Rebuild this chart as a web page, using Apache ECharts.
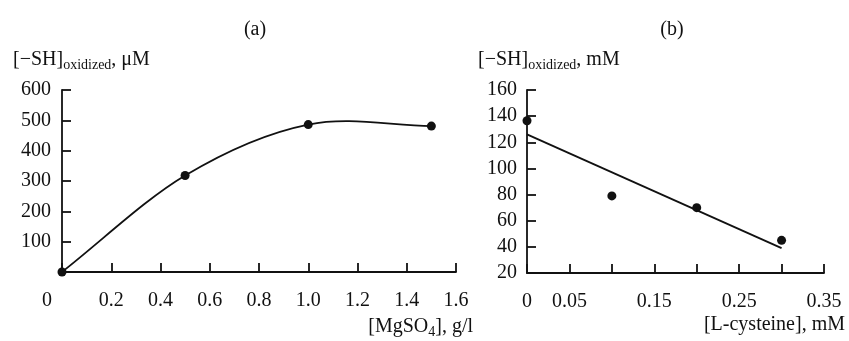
<!DOCTYPE html>
<html>
<head>
<meta charset="utf-8">
<script src="https://cdn.jsdelivr.net/npm/echarts@6/dist/echarts.min.js"></script>
<style>
  html, body { margin: 0; padding: 0; background: #fff; }
  #chart { width: 849px; height: 341px; }
</style>
</head>
<body>
<div id="chart"></div>
<script>
// panel (a): oxidized SH vs MgSO4
const mgso4 = [0, 0.5, 1.0, 1.5];
const shA = [0, 318, 486, 481];
// panel (b): oxidized SH vs L-cysteine
const cysteine = [0, 0.1, 0.2, 0.3];
const shB = [136.5, 79, 70, 45];
// linear fit line of panel (b), end points
const fitX = [0, 0.3];
const fitY = [126, 39];

const panelTitles = ['(a)', '(b)'];
const yTitles = ['[−SH]{s|oxidized}{m|, μM}', '[−SH]{s|oxidized}{m|, mM}'];
const xTitles = ['[MgSO{s|4}{m|], g/l}', '[L-cysteine], mM'];

var FONT = '"Liberation Serif", "Times New Roman", serif';
var INK = '#111';

var dom = document.getElementById('chart');
var myChart = echarts.init(dom);

function pairs(xs, ys) {
  var out = [];
  for (var i = 0; i < xs.length; i++) out.push([xs[i], ys[i]]);
  return out;
}

// smooth curve through the points of panel (a), one bezier piece per item
// (catmull-rom tangents, the line series smoothing flattens the maximum)
function renderCurve(params, api) {
  var i = params.dataIndex;
  var n = mgso4.length;
  if (i >= n - 1) return null;
  var p = [];
  for (var j = 0; j < n; j++) p.push(api.coord([mgso4[j], shA[j]]));
  function tangent(k) {
    var a = p[Math.max(k - 1, 0)], b = p[Math.min(k + 1, n - 1)];
    var d = (k === 0 || k === n - 1) ? 1 : 2;
    return [(b[0] - a[0]) / d, (b[1] - a[1]) / d];
  }
  var t0 = tangent(i), t1 = tangent(i + 1);
  return {
    type: 'bezierCurve',
    shape: {
      x1: p[i][0], y1: p[i][1],
      cpx1: p[i][0] + t0[0] / 3, cpy1: p[i][1] + t0[1] / 3,
      cpx2: p[i + 1][0] - t1[0] / 3, cpy2: p[i + 1][1] - t1[1] / 3,
      x2: p[i + 1][0], y2: p[i + 1][1]
    },
    style: { stroke: INK, lineWidth: 1.8, fill: null }
  };
}

var axisLine = { lineStyle: { color: INK, width: 1.8 } };
var axisTick = { inside: true, length: 9, lineStyle: { color: INK, width: 1.8 } };

var richText = {
  m: { fontFamily: FONT, fontSize: 20, lineHeight: 24, color: INK },
  s: { fontFamily: FONT, fontSize: 14, lineHeight: 12, verticalAlign: 'bottom', color: INK }
};

function label(x, y, text, align) {
  return {
    type: 'text',
    x: x,
    y: y,
    style: {
      text: text,
      fontFamily: FONT,
      fontSize: 20,
      fill: INK,
      align: align,
      verticalAlign: 'middle',
      rich: richText
    }
  };
}

option = {
  animation: false,
  backgroundColor: '#fff',
  grid: [
    { left: 62, top: 90, width: 394, height: 182 },
    { left: 527, top: 90, width: 297, height: 183 }
  ],
  xAxis: [
    {
      gridIndex: 0, type: 'value', min: 0, max: 1.6, interval: 0.2,
      axisLine: axisLine, axisTick: axisTick, splitLine: { show: false },
      axisLabel: {
        margin: 19, color: INK, fontFamily: FONT, fontSize: 20,
        formatter: function (v) {
          if (Math.abs(v) < 1e-9) return '{z|0}';
          return v.toFixed(1);
        },
        rich: { z: { fontFamily: FONT, fontSize: 20, color: INK, padding: [0, 30, 0, 0] } }
      }
    },
    {
      gridIndex: 1, type: 'value', min: 0, max: 0.35, interval: 0.05,
      axisLine: axisLine, axisTick: axisTick, splitLine: { show: false },
      axisLabel: {
        margin: 19, color: INK, fontFamily: FONT, fontSize: 20,
        formatter: function (v) {
          var k = Math.round(v / 0.05);
          if (k === 0) return '0';
          return k % 2 === 1 ? (k * 0.05).toFixed(2) : '';
        }
      }
    }
  ],
  yAxis: [
    {
      gridIndex: 0, type: 'value', min: 0, max: 600, interval: 100,
      axisLine: { show: true, lineStyle: axisLine.lineStyle }, axisTick: axisTick,
      splitLine: { show: false },
      axisLabel: {
        margin: 11, color: INK, fontFamily: FONT, fontSize: 20,
        formatter: function (v) { return v === 0 ? '' : String(v); }
      }
    },
    {
      gridIndex: 1, type: 'value', min: 20, max: 160, interval: 20,
      axisLine: { show: true, lineStyle: axisLine.lineStyle }, axisTick: axisTick,
      splitLine: { show: false },
      axisLabel: { margin: 10, color: INK, fontFamily: FONT, fontSize: 20 }
    }
  ],
  series: [
    {
      type: 'custom', xAxisIndex: 0, yAxisIndex: 0,
      data: pairs(mgso4, shA),
      renderItem: renderCurve, clip: false, silent: true
    },
    {
      type: 'scatter', xAxisIndex: 0, yAxisIndex: 0,
      data: pairs(mgso4, shA),
      symbol: 'circle', symbolSize: 9, clip: false,
      itemStyle: { color: INK, opacity: 1 }
    },
    {
      type: 'line', xAxisIndex: 1, yAxisIndex: 1,
      data: pairs(fitX, fitY),
      showSymbol: false, clip: false,
      lineStyle: { color: INK, width: 1.8 }
    },
    {
      type: 'scatter', xAxisIndex: 1, yAxisIndex: 1,
      data: pairs(cysteine, shB),
      symbol: 'circle', symbolSize: 9, clip: false,
      itemStyle: { color: INK, opacity: 1 }
    }
  ],
  graphic: [
    label(255, 30, panelTitles[0], 'center'),
    label(672, 30, panelTitles[1], 'center'),
    label(13, 60, '{m|' + yTitles[0].replace('{s|', '}{s|'), 'left'),
    label(478, 60, '{m|' + yTitles[1].replace('{s|', '}{s|'), 'left'),
    label(473, 327, '{m|' + xTitles[0].replace('{s|', '}{s|'), 'right'),
    label(845, 325, xTitles[1], 'right')
  ]
};

if (option && typeof option === 'object') {
  myChart.setOption(option, true);
}
</script>
</body>
</html>
